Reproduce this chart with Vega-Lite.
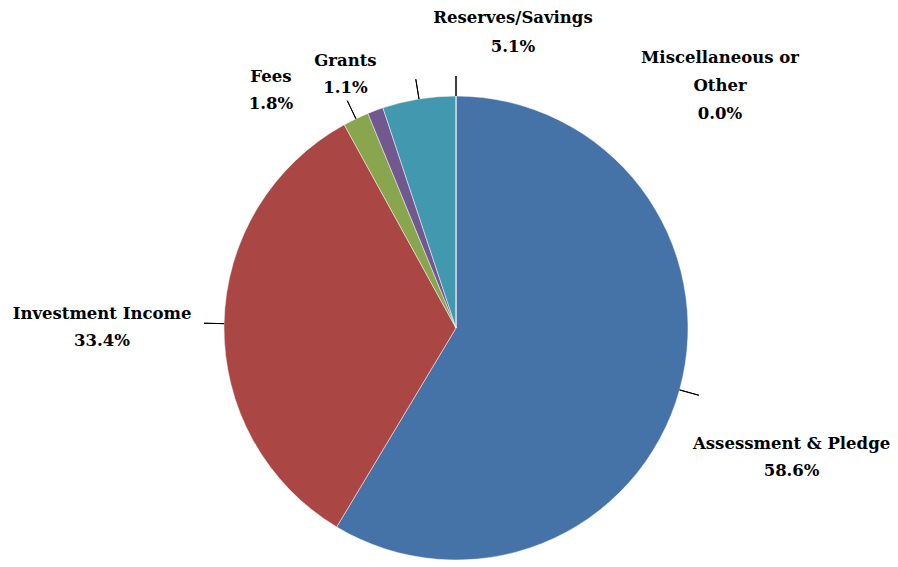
{
  "$schema": "https://vega.github.io/schema/vega-lite/v6.json",
  "width": 884,
  "height": 478,
  "autosize": {"type": "none"},
  "padding": {"left": 14, "top": 89, "right": 0, "bottom": 0},
  "background": "white",
  "config": {"view": {"stroke": null}},
  "data": {
    "values": [
      {"category": "Assessment & Pledge", "value": 58.6},
      {"category": "Investment Income", "value": 33.4},
      {"category": "Fees", "value": 1.8},
      {"category": "Grants", "value": 1.1},
      {"category": "Reserves/Savings", "value": 5.1},
      {"category": "Miscellaneous or Other", "value": 0.0}
    ]
  },
  "transform": [
    {"window": [{"op": "row_number", "as": "idx"}]},
    {"stack": "value", "groupby": [], "sort": [{"field": "idx", "order": "ascending"}], "as": ["v0", "v1"]},
    {"calculate": "(datum.v0 + datum.v1) / 2", "as": "mid"},
    {"calculate": "(datum.category == 'Miscellaneous or Other' ? 'Miscellaneous or\\nOther' : datum.category) + '\\n' + format(datum.value, '.1f') + '%'", "as": "label"}
  ],
  "layer": [
    {
      "mark": {"type": "arc", "stroke": "white", "strokeWidth": 0.8, "strokeOpacity": 0.6},
      "encoding": {
        "theta": {"field": "v0", "type": "quantitative", "scale": {"domain": [0, 100], "range": [0, 6.2832]}},
        "theta2": {"field": "v1"},
        "radius": {"value": 232},
        "color": {
          "field": "category",
          "type": "nominal",
          "sort": null,
          "scale": {
            "domain": ["Assessment & Pledge", "Investment Income", "Fees", "Grants", "Reserves/Savings", "Miscellaneous or Other"],
            "range": ["#4572A7", "#AA4643", "#89A54E", "#71588F", "#4198AF", "#DB843D"]
          },
          "legend": null
        }
      }
    },
    {
      "transform": [{"filter": "datum.category != 'Grants'"}],
      "mark": {"type": "arc", "stroke": "black", "strokeWidth": 1, "fill": null},
      "encoding": {
        "theta": {"field": "mid", "type": "quantitative", "scale": {"domain": [0, 100], "range": [0, 6.2832]}},
        "theta2": {"field": "mid"},
        "radius": {"value": 252},
        "radius2": {"value": 232}
      }
    },
    {
      "transform": [{"filter": "datum.category == 'Assessment & Pledge'"}],
      "mark": {"type": "text", "font": "DejaVu Serif", "fontWeight": "bold", "fontSize": 16.5, "lineBreak": "\n", "lineHeight": 27, "align": "center", "baseline": "middle", "dx": 112, "dy": 54},
      "encoding": {"theta": {"field": "mid", "type": "quantitative"}, "radius": {"value": 232}, "text": {"field": "label"}}
    },
    {
      "transform": [{"filter": "datum.category == 'Investment Income'"}],
      "mark": {"type": "text", "font": "DejaVu Serif", "fontWeight": "bold", "fontSize": 16.5, "lineBreak": "\n", "lineHeight": 27, "align": "center", "baseline": "middle", "dx": -122, "dy": -10},
      "encoding": {"theta": {"field": "mid", "type": "quantitative"}, "radius": {"value": 232}, "text": {"field": "label"}}
    },
    {
      "transform": [{"filter": "datum.category == 'Fees'"}],
      "mark": {"type": "text", "font": "DejaVu Serif", "fontWeight": "bold", "fontSize": 16.5, "lineBreak": "\n", "lineHeight": 27, "align": "center", "baseline": "middle", "dx": -85, "dy": -42},
      "encoding": {"theta": {"field": "mid", "type": "quantitative"}, "radius": {"value": 232}, "text": {"field": "label"}}
    },
    {
      "transform": [{"filter": "datum.category == 'Grants'"}],
      "mark": {"type": "text", "font": "DejaVu Serif", "fontWeight": "bold", "fontSize": 16.5, "lineBreak": "\n", "lineHeight": 27, "align": "center", "baseline": "middle", "dx": -30, "dy": -49},
      "encoding": {"theta": {"field": "mid", "type": "quantitative"}, "radius": {"value": 232}, "text": {"field": "label"}}
    },
    {
      "transform": [{"filter": "datum.category == 'Reserves/Savings'"}],
      "mark": {"type": "text", "font": "DejaVu Serif", "fontWeight": "bold", "fontSize": 16.5, "lineBreak": "\n", "lineHeight": 29, "align": "center", "baseline": "middle", "dx": 94, "dy": -81},
      "encoding": {"theta": {"field": "mid", "type": "quantitative"}, "radius": {"value": 232}, "text": {"field": "label"}}
    },
    {
      "transform": [{"filter": "datum.category == 'Miscellaneous or Other'"}],
      "mark": {"type": "text", "font": "DejaVu Serif", "fontWeight": "bold", "fontSize": 16.5, "lineBreak": "\n", "lineHeight": 28, "align": "center", "baseline": "middle", "dx": 264, "dy": -38},
      "encoding": {"theta": {"field": "mid", "type": "quantitative"}, "radius": {"value": 232}, "text": {"field": "label"}}
    }
  ]
}
